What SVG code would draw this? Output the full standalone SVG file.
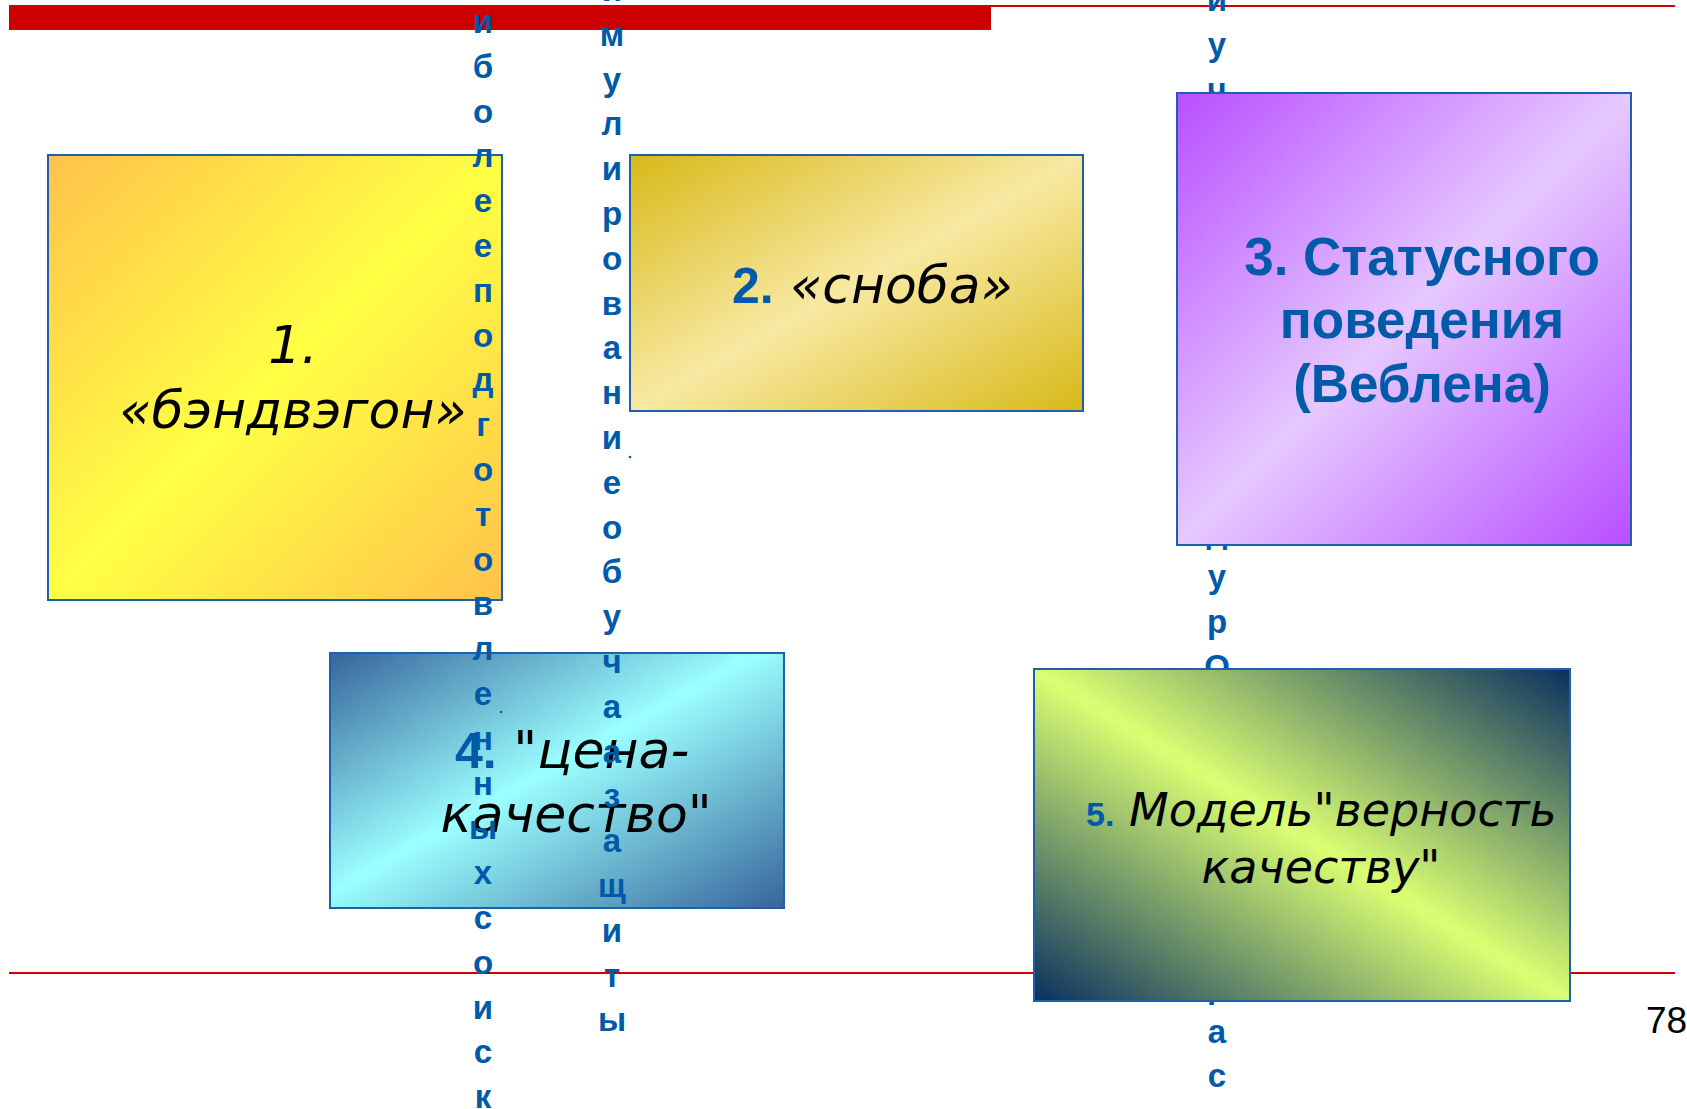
<svg xmlns="http://www.w3.org/2000/svg" width="1687" height="1109" viewBox="0 0 1687 1109">
<style>
.box{stroke:#1F5FAF;stroke-width:2}
.it{font-family:"DejaVu Sans",Verdana,sans-serif;font-style:italic;fill:#000}
.bb{font-family:"Liberation Sans",Arial,sans-serif;font-weight:bold;fill:#005AAA}
.col{font-family:"Liberation Sans",Arial,sans-serif;font-weight:bold;font-size:33px;fill:#005AAA;text-anchor:middle}
.red{stroke:#CC0000;stroke-width:2}
</style>
<defs>
<linearGradient id="g1" x1="0" y1="0" x2="1" y2="1"><stop offset="0" stop-color="#FFC24A"/><stop offset="0.5" stop-color="#FFFF44"/><stop offset="1" stop-color="#FFC24A"/></linearGradient>
<linearGradient id="g2" x1="0" y1="0" x2="1" y2="1"><stop offset="0" stop-color="#D8B918"/><stop offset="0.5" stop-color="#F8E9A2"/><stop offset="1" stop-color="#D8B918"/></linearGradient>
<linearGradient id="g3" x1="0" y1="0" x2="1" y2="1"><stop offset="0" stop-color="#B84FFF"/><stop offset="0.5" stop-color="#E6C8FF"/><stop offset="1" stop-color="#B84FFF"/></linearGradient>
<linearGradient id="g4" x1="0" y1="0" x2="1" y2="1"><stop offset="0" stop-color="#36659B"/><stop offset="0.47" stop-color="#9BFFFF"/><stop offset="1" stop-color="#36659B"/></linearGradient>
<linearGradient id="g5" x1="0" y1="1" x2="1" y2="0"><stop offset="0" stop-color="#0A3060"/><stop offset="0.5" stop-color="#DBFF72"/><stop offset="1" stop-color="#0A3060"/></linearGradient>
</defs>
<g id="frame">
<line class="red" x1="9" y1="6" x2="1675" y2="6"/>
<rect x="9" y="5" width="982" height="25" fill="#CC0000"/>
<line class="red" x1="9" y1="973" x2="1675" y2="973"/>
</g>
<g id="column-c" class="col">
<text x="1217" y="11">и</text>
<text x="1217" y="56">у</text>
<text x="1217" y="101">ч</text>
<text x="1217" y="543">д</text>
<text x="1217" y="588">у</text>
<text x="1217" y="633">р</text>
<text x="1217" y="678">О</text>
<text x="1217" y="998">р</text>
<text x="1217" y="1043">а</text>
<text x="1217" y="1087">с</text>
</g>
<g id="node1">
<rect class="box" x="48" y="155" width="454" height="445" fill="url(#g1)"/>
<text class="it" x="293" y="363" font-size="52" text-anchor="middle">1.</text>
<text class="it" x="293" y="428" font-size="52" text-anchor="middle">«бэндвэгон»</text>
</g>
<g id="node2">
<rect class="box" x="630" y="155" width="453" height="256" fill="url(#g2)"/>
<text x="732" y="303"><tspan class="bb" font-size="50">2.</tspan><tspan class="it" font-size="52"> «сноба»</tspan></text>
</g>
<g id="node3">
<rect class="box" x="1177" y="93" width="454" height="452" fill="url(#g3)"/>
<text class="bb" font-size="53" text-anchor="middle" x="1422" y="275">3. Статусного</text>
<text class="bb" font-size="53" text-anchor="middle" x="1422" y="338">поведения</text>
<text class="bb" font-size="53" text-anchor="middle" x="1422" y="402">(Веблена)</text>
</g>
<g id="node4">
<rect class="box" x="330" y="653" width="454" height="255" fill="url(#g4)"/>
<text x="455" y="768"><tspan class="bb" font-size="50">4.</tspan><tspan class="it" font-size="52"> "цена-</tspan></text>
<text class="it" font-size="52" text-anchor="middle" x="576" y="832">качество"</text>
</g>
<g id="node5">
<rect class="box" x="1034" y="669" width="536" height="332" fill="url(#g5)"/>
<text x="1086" y="826"><tspan class="bb" font-size="34">5.</tspan><tspan class="it" font-size="46"> Модель"верность</tspan></text>
<text class="it" font-size="46" text-anchor="middle" x="1321" y="883">качеству"</text>
</g>
<g id="column-a" class="col">
<text x="483" y="33">и<tspan x="483" dy="44.8">б</tspan><tspan x="483" dy="44.8">о</tspan><tspan x="483" dy="44.8">л</tspan><tspan x="483" dy="44.8">е</tspan><tspan x="483" dy="44.8">е</tspan><tspan x="483" dy="44.8">п</tspan><tspan x="483" dy="44.8">о</tspan><tspan x="483" dy="44.8">д</tspan><tspan x="483" dy="44.8">г</tspan><tspan x="483" dy="44.8">о</tspan><tspan x="483" dy="44.8">т</tspan><tspan x="483" dy="44.8">о</tspan><tspan x="483" dy="44.8">в</tspan><tspan x="483" dy="44.8">л</tspan><tspan x="483" dy="44.8">е</tspan><tspan x="483" dy="44.8">н</tspan><tspan x="483" dy="44.8">н</tspan><tspan x="483" dy="44.8">ы</tspan><tspan x="483" dy="44.8">х</tspan><tspan x="483" dy="44.8">с</tspan><tspan x="483" dy="44.8">о</tspan><tspan x="483" dy="44.8">и</tspan><tspan x="483" dy="44.8">с</tspan><tspan x="483" dy="44.8">к</tspan></text>
</g>
<g id="column-b" class="col">
<text x="612" y="1">и<tspan x="612" dy="44.8">м</tspan><tspan x="612" dy="44.8">у</tspan><tspan x="612" dy="44.8">л</tspan><tspan x="612" dy="44.8">и</tspan><tspan x="612" dy="44.8">р</tspan><tspan x="612" dy="44.8">о</tspan><tspan x="612" dy="44.8">в</tspan><tspan x="612" dy="44.8">а</tspan><tspan x="612" dy="44.8">н</tspan><tspan x="612" dy="44.8">и</tspan><tspan x="612" dy="44.8">е</tspan><tspan x="612" dy="44.8">о</tspan><tspan x="612" dy="44.8">б</tspan><tspan x="612" dy="44.8">у</tspan><tspan x="612" dy="44.8">ч</tspan><tspan x="612" dy="44.8">а</tspan><tspan x="612" dy="44.8">а</tspan><tspan x="612" dy="44.8">з</tspan><tspan x="612" dy="44.8">а</tspan><tspan x="612" dy="44.8">щ</tspan><tspan x="612" dy="44.8">и</tspan><tspan x="612" dy="44.8">т</tspan><tspan x="612" dy="44.8">ы</tspan></text>
</g>
<g id="dots" fill="#005AAA">
<circle cx="630" cy="457" r="1.3"/>
<circle cx="501" cy="712" r="1.3"/>
</g>
<g id="connectors"/>
<text id="page-number" x="1646" y="1033" font-family="Liberation Sans, Arial, sans-serif" font-size="37" fill="#000">78</text>
</svg>
